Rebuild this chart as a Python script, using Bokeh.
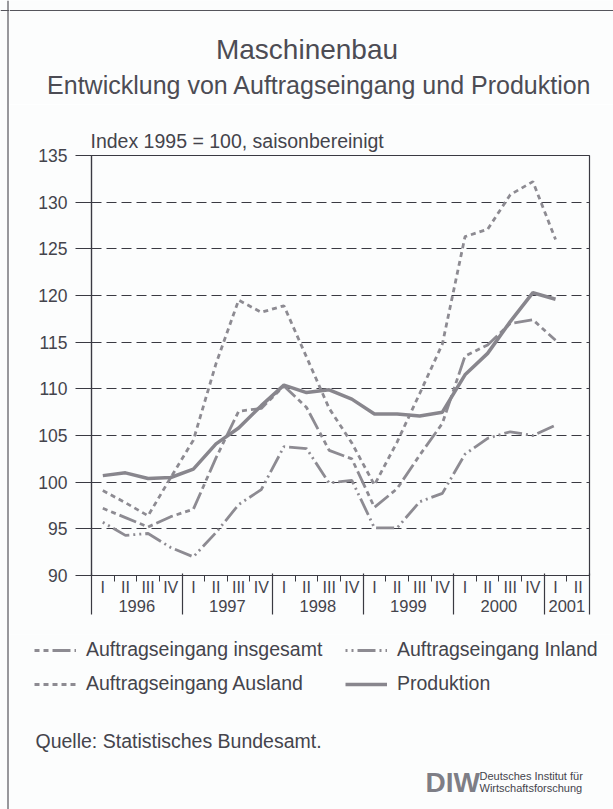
import numpy as np
from bokeh.plotting import figure
from bokeh.layouts import column, row
from bokeh.models import (ColumnDataSource, Range1d, LinearAxis, FixedTicker, Label,
                          Legend, LegendItem, Grid, Span)
from bokeh.embed import file_html
from bokeh.resources import INLINE

# ---------------- data ----------------
years = ["1996", "1997", "1998", "1999", "2000", "2001"]
quarter_names = ["I", "II", "III", "IV"]
# axis runs 1996 I .. 2001 II
quarter_labels = [q for _ in years[:-1] for q in quarter_names] + ["I", "II"]
year_quarters = [4, 4, 4, 4, 4, 2]

# values 1996 I .. 2001 I (Index 1995 = 100, saisonbereinigt)
insgesamt = [97.2, 96.2, 95.2, 96.3, 97.1, 102.6, 107.6, 107.9, 110.3, 108.0, 103.4,
             102.5, 97.3, 99.3, 102.9, 106.3, 113.5, 114.7, 117.0, 117.4, 115.2]
inland = [95.7, 94.3, 94.5, 93.0, 92.0, 94.6, 97.6, 99.2, 103.8, 103.6, 99.9,
          100.2, 95.1, 95.1, 97.9, 98.8, 103.0, 104.7, 105.4, 105.0, 106.1]
ausland = [99.1, 97.8, 96.4, 100.5, 104.5, 112.7, 119.5, 118.2, 118.9, 113.4, 107.9,
           104.2, 99.7, 104.3, 109.5, 114.8, 126.3, 127.1, 130.8, 132.2, 126.0]
produktion = [100.7, 101.0, 100.4, 100.5, 101.4, 104.1, 105.8, 108.2, 110.4, 109.6, 109.9,
              108.9, 107.3, 107.3, 107.1, 107.5, 111.5, 113.8, 117.2, 120.3, 119.6]
y_ticks = [90, 95, 100, 105, 110, 115, 120, 125, 130, 135]

names = ["Auftragseingang insgesamt", "Auftragseingang Inland",
         "Auftragseingang Ausland", "Produktion"]

# ---------------- styling ----------------
FONT = "Liberation Sans"
TXT = "#44444c"
AX = "#3a3a42"
GRAY = "#8d8b92"
PGRAY = "#88868d"
BG = "#fcfdfd"
BORDER = "#55555c"

STRIP_W = 9
W = 613 - STRIP_W
H_TOP, H_MAIN = 104, 530
H_BOT = 809 - H_TOP - H_MAIN

STYLES = {
    "ins": dict(line_color=GRAY, line_width=2.8, line_dash="5 4 5 4 18 4"),
    "inl": dict(line_color=GRAY, line_width=2.8, line_dash="2 4 2 4 18 4"),
    "aus": dict(line_color=GRAY, line_width=2.8, line_dash="5 4"),
    "prod": dict(line_color=PGRAY, line_width=3.5),
}


def blank(width, height):
    f = figure(width=width, height=height, x_range=Range1d(0, 1), y_range=Range1d(0, 1),
               x_axis_type=None, y_axis_type=None, min_border=0, toolbar_location=None,
               output_backend="svg")
    f.outline_line_color = None
    f.background_fill_color = BG
    f.border_fill_color = BG
    f.frame_align = False
    return f


def lab(f, text, x, y, size, align="left", baseline="middle", style="normal", color=TXT):
    f.add_layout(Label(x=x, y=y, x_units="screen", y_units="screen", text=text,
                       text_font=FONT, text_font_size=size, text_align=align,
                       text_baseline=baseline, text_color=color, text_font_style=style))


# ---------------- left strip with the page border ----------------
strip = blank(STRIP_W, 809)
strip.add_layout(Span(location=7.5, location_units="screen", dimension="height",
                      line_color=BORDER, line_width=1.2))
strip.add_layout(Span(location=799, location_units="screen", dimension="width",
                      line_color=BORDER, line_width=1.2))

# ---------------- header ----------------
top = blank(W, H_TOP)
top.add_layout(Span(location=H_TOP - 10, location_units="screen", dimension="width",
                    line_color=BORDER, line_width=1.2))
lab(top, "Maschinenbau", 306.5 - STRIP_W, H_TOP - 49, "28px", align="center",
    baseline="alphabetic", color="#4c4c54")
lab(top, "Entwicklung von Auftragseingang und Produktion", 319 - STRIP_W, H_TOP - 84, "25px",
    align="center", baseline="alphabetic", color="#4c4c54")

# ---------------- main chart ----------------
n_q = len(quarter_labels)
x = np.arange(len(produktion)) + 0.5
src = ColumnDataSource(dict(x=x, ins=insgesamt, inl=inland, aus=ausland, prod=produktion))

p = figure(width=W, height=H_MAIN, x_range=Range1d(0, n_q),
           y_range=Range1d(y_ticks[0], y_ticks[-1]),
           output_backend="svg", toolbar_location=None,
           x_axis_type=None, y_axis_type=None,
           min_border_left=91 - STRIP_W, min_border_right=W - (91 - STRIP_W) - 498,
           min_border_top=155 - H_TOP, min_border_bottom=H_MAIN - (575 - H_TOP))
p.frame_align = False
p.background_fill_color = BG
p.border_fill_color = BG
p.outline_line_color = AX
p.outline_line_width = 1.2

p.title.text = "Index 1995 = 100, saisonbereinigt"
p.title.align = "left"
p.title.offset = -1
p.title.standoff = 8
p.title.text_font = FONT
p.title.text_font_size = "19.5px"
p.title.text_font_style = "normal"
p.title.text_color = TXT

yticker = FixedTicker(ticks=y_ticks)
yax = LinearAxis(ticker=yticker, major_tick_out=16, major_tick_in=0, minor_tick_out=0,
                 minor_tick_in=0, major_label_standoff=8, axis_line_color=AX,
                 major_tick_line_color=AX, axis_line_width=1.2,
                 major_label_text_font=FONT, major_label_text_font_size="17.5px",
                 major_label_text_color=TXT)
p.add_layout(yax, "left")
p.add_layout(Grid(dimension=1, ticker=yticker, grid_line_color=AX, grid_line_width=1,
                  grid_line_dash="10 5"))

centers = [i + 0.5 for i in range(n_q)]
bounds = [int(b) for b in np.cumsum([0] + year_quarters)]
qticker = FixedTicker(ticks=centers, minor_ticks=list(range(1, n_q)))
xq = LinearAxis(ticker=qticker, major_tick_out=0, major_tick_in=0, minor_tick_out=6,
                minor_tick_in=0, axis_line_color=AX, axis_line_width=1.2,
                minor_tick_line_color=AX, major_label_standoff=-3,
                major_label_overrides={c: l for c, l in zip(centers, quarter_labels)},
                major_label_text_font=FONT, major_label_text_font_size="16px",
                major_label_text_color=TXT)
p.add_layout(xq, "below")

ycent = [(bounds[i] + bounds[i + 1]) / 2 for i in range(len(years))]
xy = LinearAxis(ticker=FixedTicker(ticks=ycent), major_tick_out=0, major_tick_in=0,
                axis_line_color=None, major_label_standoff=1,
                major_label_overrides={c: y for c, y in zip(ycent, years)},
                major_label_text_font=FONT, major_label_text_font_size="16.5px",
                major_label_text_color=TXT)
p.add_layout(xy, "below")

xs = LinearAxis(ticker=FixedTicker(ticks=bounds), major_tick_out=0, major_tick_in=41,
                axis_line_color=None, major_tick_line_color=AX, major_tick_line_width=1.2,
                major_label_standoff=0, major_label_overrides={b: "" for b in bounds},
                major_label_text_font_size="1px")
p.add_layout(xs, "below")

p.line("x", "ins", source=src, **STYLES["ins"])
p.line("x", "inl", source=src, **STYLES["inl"])
p.line("x", "aus", source=src, **STYLES["aus"])
p.line("x", "prod", source=src, **STYLES["prod"])

# ---------------- footer: legend, source, logo ----------------
bot = blank(W, H_BOT)
keys = ["ins", "inl", "aus", "prod"]
dummy = ColumnDataSource(dict(x=[np.nan], y=[np.nan]))
rends = {k: bot.line("x", "y", source=dummy, **STYLES[k]) for k in keys}
legend = Legend(items=[LegendItem(label=n, renderers=[rends[k]]) for n, k in zip(names, keys)],
                orientation="horizontal", ncols=2,
                location=(34 - STRIP_W, 809 - 695),
                glyph_width=42, glyph_height=22, label_height=22, label_standoff=10,
                label_width=248, spacing=11, padding=0, margin=0, border_line_color=None,
                background_fill_alpha=0, label_text_font=FONT, label_text_font_size="19.5px",
                label_text_color=TXT)
bot.add_layout(legend)

lab(bot, "Quelle: Statistisches Bundesamt.", 35 - STRIP_W, 809 - 740, "19.5px")
lab(bot, "DIW", 425 - STRIP_W, 809 - 782, "28px", style="bold", color="#7e7e86")
lab(bot, "Deutsches Institut für", 479 - STRIP_W, 809 - 775, "11px")
lab(bot, "Wirtschaftsforschung", 479 - STRIP_W, 809 - 787, "11px")

layout = row(strip, column(top, p, bot))
open("out.html", "w").write(file_html(layout, INLINE))
